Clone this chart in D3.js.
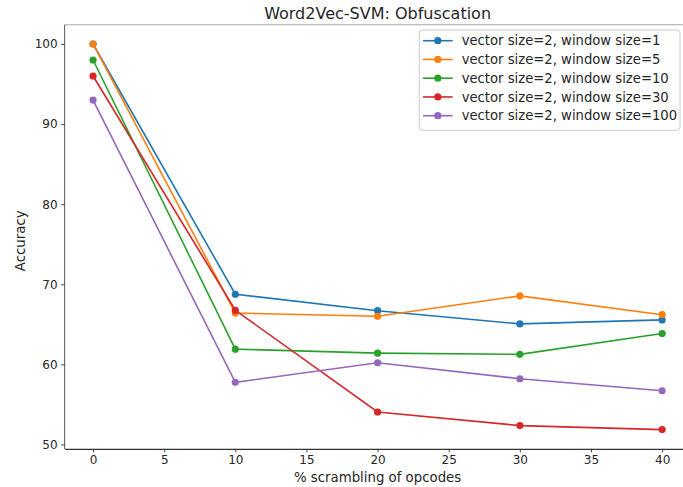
<!DOCTYPE html>
<html>
<head>
<meta charset="utf-8">
<script src="https://cdn.jsdelivr.net/npm/d3@7"></script>
<style>
  html, body { margin: 0; padding: 0; background: #fff; }
  svg { display: block; font-family: "DejaVu Sans", sans-serif; }
</style>
</head>
<body>
<svg id="chart" width="683" height="487"></svg>
<script>
// Scrambling levels (% of opcodes scrambled)
const scrambling = [0, 10, 20, 30, 40];

// Accuracy per configuration
const window1   = [100, 68.75, 66.7, 65.05, 65.55];
const window5   = [100, 66.4, 66.0, 68.55, 66.2];
const window10  = [98, 61.9, 61.4, 61.25, 63.85];
const window30  = [96, 66.75, 54.05, 52.35, 51.85];
const window100 = [93, 57.75, 60.2, 58.2, 56.7];

const seriesNames = [
  "vector size=2, window size=1",
  "vector size=2, window size=5",
  "vector size=2, window size=10",
  "vector size=2, window size=30",
  "vector size=2, window size=100"
];
const seriesValues = [window1, window5, window10, window30, window100];
const seriesColors = ["#1f77b4", "#ff7f0e", "#2ca02c", "#d62728", "#9467bd"];

const xTicks = [0, 5, 10, 15, 20, 25, 30, 35, 40];
const yTicks = [50, 60, 70, 80, 90, 100];

const svg = d3.select("#chart");
const plot = { left: 64.6, right: 690.6, top: 24.7, bottom: 448.9 };

// Axis domains padded by 5% like the plotting defaults
const allY = seriesValues.flat();
const yMin = d3.min(allY), yMax = d3.max(allY);
const yPad = (yMax - yMin) * 0.05;
const xPad = (d3.max(scrambling) - d3.min(scrambling)) * 0.05;

const x = d3.scaleLinear()
  .domain([d3.min(scrambling) - xPad, d3.max(scrambling) + xPad])
  .range([plot.left, plot.right]);
const y = d3.scaleLinear()
  .domain([yMin - yPad, yMax + yPad])
  .range([plot.bottom, plot.top]);

svg.append("rect").attr("width", 683).attr("height", 487).attr("fill", "#fff");

// Spines
svg.append("line")
  .attr("x1", plot.left).attr("x2", plot.right)
  .attr("y1", plot.top).attr("y2", plot.top)
  .attr("stroke", "#a8a8a8").attr("stroke-width", 1.1);
svg.append("line")
  .attr("x1", plot.left).attr("x2", plot.left)
  .attr("y1", plot.top).attr("y2", plot.bottom)
  .attr("stroke", "#666").attr("stroke-width", 1.1);

// Axes
const xAxis = svg.append("g")
  .attr("transform", `translate(0,${plot.bottom})`)
  .call(d3.axisBottom(x).tickValues(xTicks).tickSize(3.5).tickPadding(3.5).tickSizeOuter(0));
const yAxis = svg.append("g")
  .attr("transform", `translate(${plot.left},0)`)
  .call(d3.axisLeft(y).tickValues(yTicks).tickSize(3.5).tickPadding(3.5).tickSizeOuter(0));

xAxis.select(".domain").attr("stroke", "#333").attr("stroke-width", 1.1);
yAxis.select(".domain").remove();
[xAxis, yAxis].forEach(g => {
  g.selectAll(".tick line").attr("stroke", "#333").attr("stroke-width", 0.9);
  g.selectAll(".tick text")
    .attr("fill", "#262626")
    .style("font-family", "DejaVu Sans")
    .style("font-size", "12px");
});

// Axis labels and title
svg.append("text")
  .attr("x", (plot.left + plot.right) / 2).attr("y", 481.5)
  .attr("text-anchor", "middle").attr("fill", "#262626")
  .style("font-size", "13.3px")
  .text("% scrambling of opcodes");
svg.append("text")
  .attr("transform", `translate(24.5,${(plot.top + plot.bottom) / 2 + 4}) rotate(-90)`)
  .attr("text-anchor", "middle").attr("fill", "#262626")
  .style("font-size", "13.3px")
  .text("Accuracy");
svg.append("text")
  .attr("x", (plot.left + plot.right) / 2).attr("y", 19)
  .attr("text-anchor", "middle").attr("fill", "#262626")
  .style("font-size", "16px")
  .text("Word2Vec-SVM: Obfuscation");

// Series lines and markers
const line = d3.line().x((d, i) => x(scrambling[i])).y(d => y(d));
seriesValues.forEach((vals, k) => {
  const g = svg.append("g");
  g.append("path")
    .datum(vals)
    .attr("d", line)
    .attr("fill", "none")
    .attr("stroke", seriesColors[k])
    .attr("stroke-width", 1.6);
  g.selectAll("circle")
    .data(vals)
    .join("circle")
    .attr("cx", (d, i) => x(scrambling[i]))
    .attr("cy", d => y(d))
    .attr("r", 3.6)
    .attr("fill", seriesColors[k]);
});

// Legend
const legend = svg.append("g");
legend.append("rect")
  .attr("x", 419.3).attr("y", 30).attr("width", 260.7).attr("height", 100.3)
  .attr("rx", 3).attr("fill", "#fff").attr("fill-opacity", 0.85)
  .attr("stroke", "#cccccc").attr("stroke-width", 1);
seriesNames.forEach((name, k) => {
  const cy = 40.7 + k * 18.75;
  legend.append("line")
    .attr("x1", 423).attr("x2", 452.7).attr("y1", cy).attr("y2", cy)
    .attr("stroke", seriesColors[k]).attr("stroke-width", 1.6);
  legend.append("circle")
    .attr("cx", 437.8).attr("cy", cy).attr("r", 3.6).attr("fill", seriesColors[k]);
  legend.append("text")
    .attr("x", 461.7).attr("y", cy + 4.6)
    .attr("fill", "#262626")
    .style("font-size", "13.2px")
    .text(name);
});
</script>
</body>
</html>
